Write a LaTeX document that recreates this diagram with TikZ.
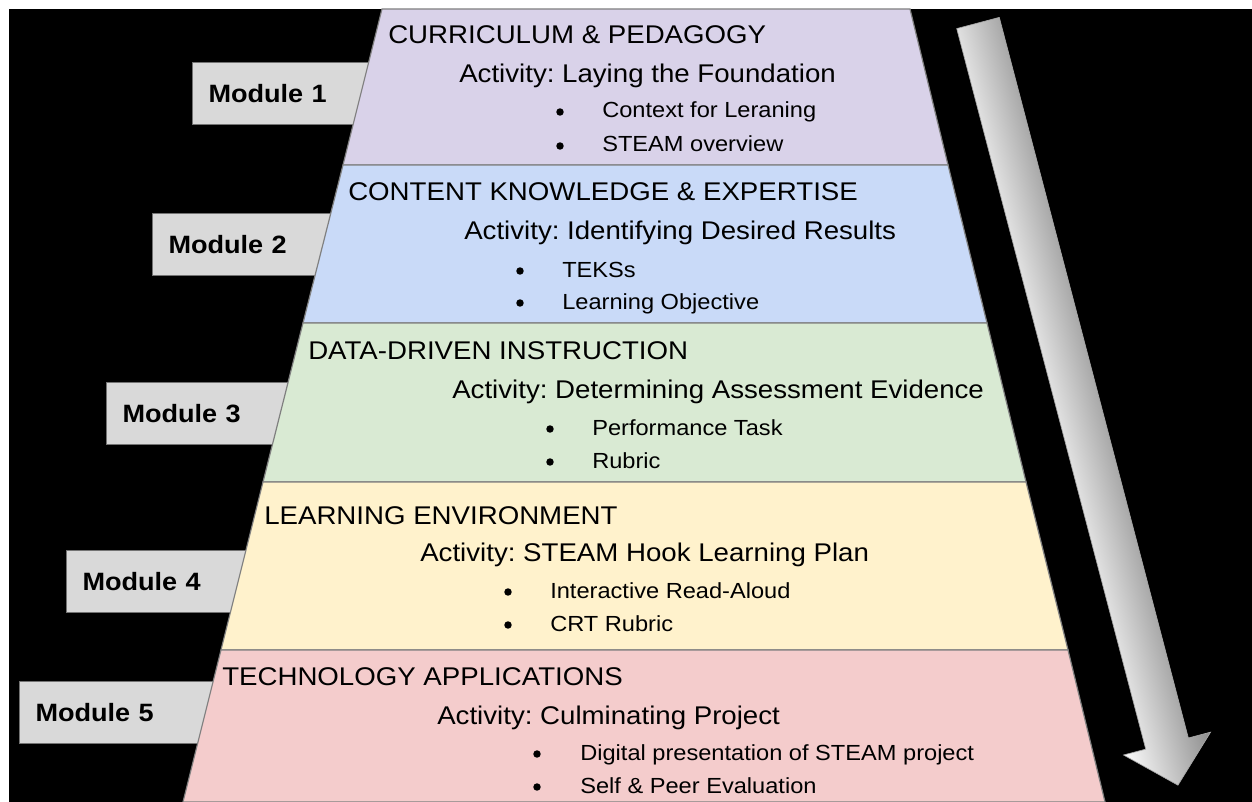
\documentclass[tikz,border=0pt]{standalone}
\usepackage{fontspec}
\setmainfont{Liberation Sans}[FakeStretch=1.08]
\frenchspacing

\definecolor{lilac}{HTML}{D9D2E9}
\definecolor{skyblue}{HTML}{C9DAF8}
\definecolor{mint}{HTML}{D9EAD3}
\definecolor{cream}{HTML}{FFF2CC}
\definecolor{blush}{HTML}{F4CCCC}
\definecolor{boxgrey}{HTML}{D9D9D9}

\begin{document}
\begin{tikzpicture}[x=0.75pt, y=-0.75pt,
  band/.style={draw=black!50, line width=0.9pt},
  modbox/.style={anchor=north west, fill=boxgrey, draw=black!55, line width=0.8pt,
    minimum height=46.5pt, minimum width=150pt, text width=126pt, align=left,
    inner xsep=12pt, font=\fontsize{18.8}{22}\selectfont\bfseries},
  heading/.style={anchor=base west, inner sep=0pt, font=\fontsize{19.2}{23}\selectfont},
  bullettext/.style={anchor=base west, inner sep=0pt, font=\fontsize{16.4}{20}\selectfont},
  bulletdot/.style={circle, fill=black, inner sep=0pt, minimum size=5.6pt}]

\fill[white] (0,0) rectangle (1252,802);
\fill[black] (9,9) rectangle (1252,802);
\useasboundingbox (0,0) rectangle (1252,802);

% module tabs (behind the stack)
\node[modbox] (m1) at (192,62) {Module 1};
\node[modbox] (m2) at (152,213) {Module 2};
\node[modbox] (m3) at (106,382) {Module 3};
\node[modbox] (m4) at (66,550) {Module 4};
\node[modbox] (m5) at (19,681) {Module 5};

% the stack
\draw[band, fill=lilac] (382,9) -- (910,9) -- (948,165) -- (343,165) -- cycle;
\draw[band, fill=skyblue] (343,165) -- (948,165) -- (987,323) -- (303,323) -- cycle;
\draw[band, fill=mint] (303,323) -- (987,323) -- (1026,482) -- (263,482) -- cycle;
\draw[band, fill=cream] (263,482) -- (1026,482) -- (1068,650) -- (221,650) -- cycle;
\draw[band, fill=blush] (221,650) -- (1068,650) -- (1105,802) -- (183,802) -- cycle;

% module 1
\node[heading] (h1) at (388,44) {CURRICULUM \& PEDAGOGY};
\node[heading] (a1) at (459,83) {Activity: Laying the Foundation};
\node[bulletdot] (d1a) at (560,112) {};
\node[bullettext] (t1a) at (602,118) {Context for Leraning};
\node[bulletdot] (d1b) at (560,146) {};
\node[bullettext] (t1b) at (602,152) {STEAM overview};

% module 2
\node[heading] (h2) at (348,201) {CONTENT KNOWLEDGE \& EXPERTISE};
\node[heading] (a2) at (464,240) {Activity: Identifying Desired Results};
\node[bulletdot] (d2a) at (520,271) {};
\node[bullettext] (t2a) at (562,277) {TEKSs};
\node[bulletdot] (d2b) at (520,303) {};
\node[bullettext] (t2b) at (562,309) {Learning Objective};

% module 3
\node[heading] (h3) at (308,359) {DATA-DRIVEN INSTRUCTION};
\node[heading] (a3) at (452,398) {Activity: Determining Assessment Evidence};
\node[bulletdot] (d3a) at (550,429) {};
\node[bullettext] (t3a) at (592,435) {Performance Task};
\node[bulletdot] (d3b) at (550,462) {};
\node[bullettext] (t3b) at (592,468) {Rubric};

% module 4
\node[heading] (h4) at (264,524) {LEARNING ENVIRONMENT};
\node[heading] (a4) at (420,561) {Activity: STEAM Hook Learning Plan};
\node[bulletdot] (d4a) at (508,592) {};
\node[bullettext] (t4a) at (550,598) {Interactive Read-Aloud};
\node[bulletdot] (d4b) at (508,625) {};
\node[bullettext] (t4b) at (550,631) {CRT Rubric};

% module 5
\node[heading] (h5) at (222,685) {TECHNOLOGY APPLICATIONS};
\node[heading] (a5) at (437,724) {Activity: Culminating Project};
\node[bulletdot] (d5a) at (537,754) {};
\node[bullettext] (t5a) at (580,760) {Digital presentation of STEAM project};
\node[bulletdot] (d5b) at (537,787) {};
\node[bullettext] (t5b) at (580,793) {Self \& Peer Evaluation};

% big arrow on the right
\begin{scope}[transform canvas={shift={(978,23)}, rotate=-75.3}]
\shade[top color=black!45, bottom color=black!1, draw=black!35, line width=0.5pt]
  (0,-22) -- (745,-22) -- (745,-45) -- (788,0) -- (745,45) -- (745,22) -- (0,22) -- cycle;
\end{scope}
\end{tikzpicture}
\end{document}
